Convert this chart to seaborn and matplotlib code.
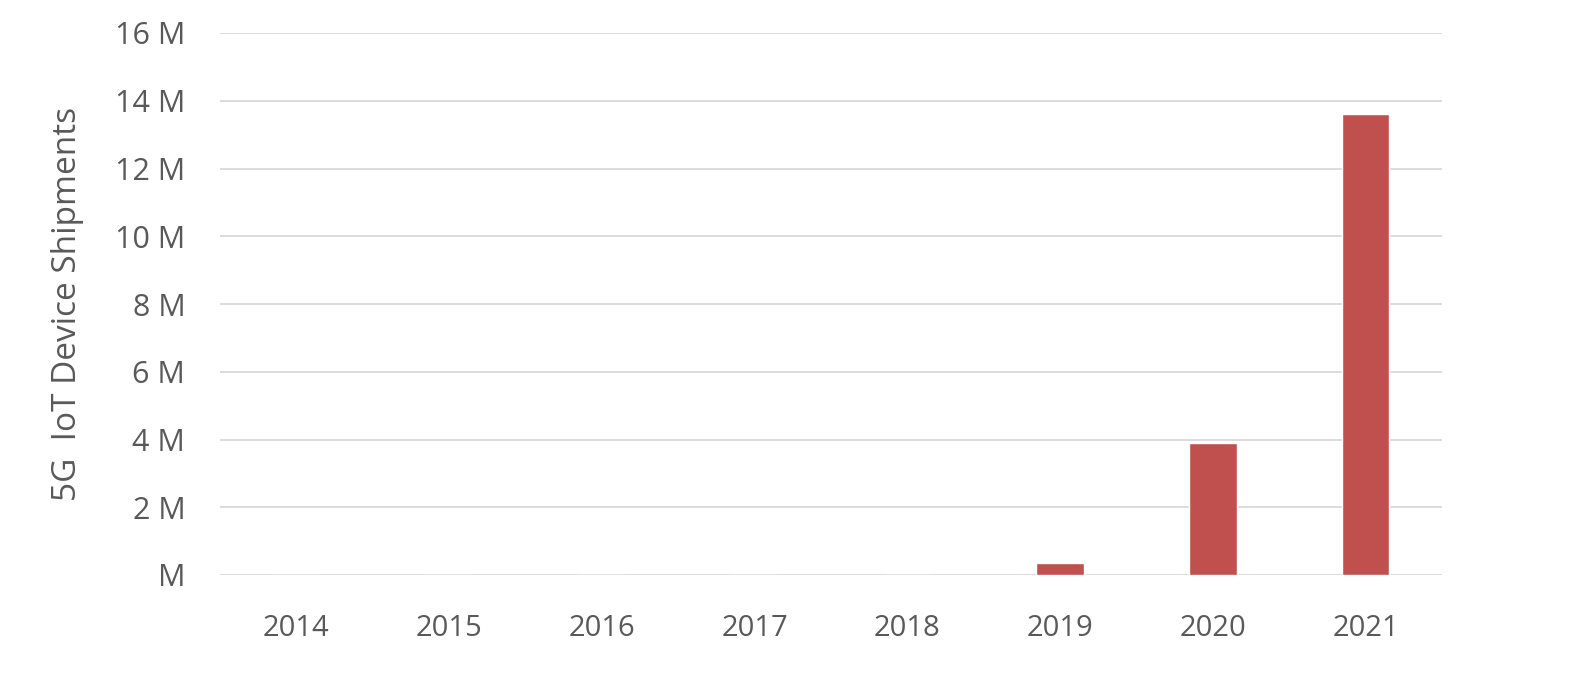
import matplotlib
matplotlib.use("Agg")
import matplotlib.pyplot as plt
import seaborn as sns
import pandas as pd
from matplotlib.ticker import FuncFormatter

years = ["2014", "2015", "2016", "2017", "2018", "2019", "2020", "2021"]
shipments_m = [0, 0, 0, 0, 0, 0.36, 3.89, 13.62]
y_ticks = [0, 2, 4, 6, 8, 10, 12, 14, 16]

df = pd.DataFrame({"year": years, "shipments": shipments_m})

sns.set_theme(style="white")
plt.rcParams["font.family"] = ["Open Sans", "DejaVu Sans"]

fig = plt.figure(figsize=(15.78, 7.0), dpi=100)
ax = fig.add_axes([220 / 1578, 1 - 575 / 700, 1222 / 1578, 542 / 700])

sns.barplot(data=df, x="year", y="shipments", color="#C0504D", width=0.31,
            saturation=1, ax=ax, zorder=3)

ax.set_ylim(0, 16)
ax.set_yticks(y_ticks)
ax.yaxis.set_major_formatter(FuncFormatter(lambda v, p: "M" if v == 0 else f"{int(v)} M"))
ax.grid(axis="y", color="#D9D9D9", linewidth=1.3, zorder=0)
for s in ax.spines.values():
    s.set_visible(False)
ax.tick_params(axis="y", length=0, pad=25, labelsize=22, labelcolor="#595959")
ax.tick_params(axis="x", length=0, pad=28, labelsize=21, labelcolor="#595959")
ax.set_xlabel("")
ax.set_ylabel("5G  IoT Device Shipments", fontsize=24, color="#595959")
ax.yaxis.set_label_coords(-0.111, 0.5)

fig.savefig("out.png", dpi=100)
